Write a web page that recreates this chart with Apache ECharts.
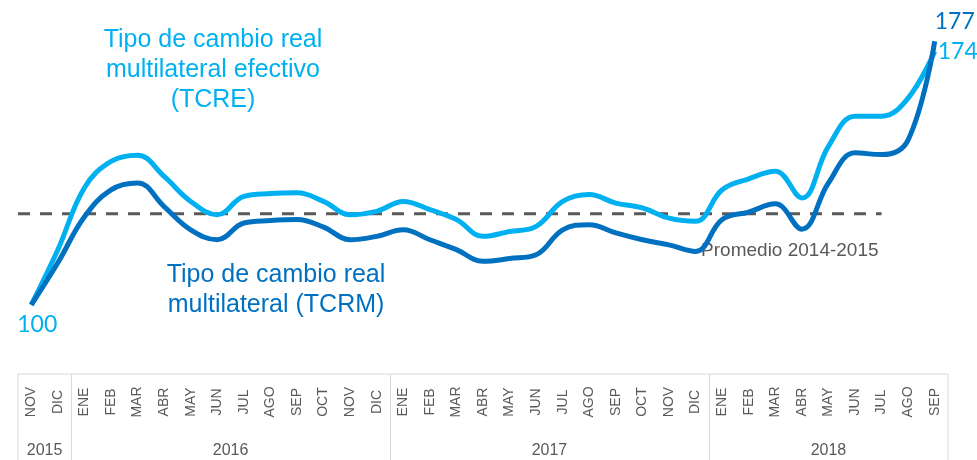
<!DOCTYPE html>
<html>
<head>
<meta charset="utf-8">
<script src="https://cdn.jsdelivr.net/npm/echarts@6/dist/echarts.min.js"></script>
<style>
  html, body { margin: 0; padding: 0; background: #fff; }
  #chart { width: 977px; height: 460px; }
</style>
</head>
<body>
<div id="chart"></div>
<script>
// meses nov-2015 .. sep-2018
const months = ['NOV', 'DIC',
  'ENE', 'FEB', 'MAR', 'ABR', 'MAY', 'JUN', 'JUL', 'AGO', 'SEP', 'OCT', 'NOV', 'DIC',
  'ENE', 'FEB', 'MAR', 'ABR', 'MAY', 'JUN', 'JUL', 'AGO', 'SEP', 'OCT', 'NOV', 'DIC',
  'ENE', 'FEB', 'MAR', 'ABR', 'MAY', 'JUN', 'JUL', 'AGO', 'SEP'];
const years = ['2015', '2016', '2017', '2018'];
const monthsPerYear = [2, 12, 12, 9];

// indices (nov-2015 = 100)
const tcre = [100, 116.1, 134.2, 141.9, 143.7, 137.5, 130.2, 126.3, 131.7, 132.5, 132.7, 130.2, 126.3, 127.3,
  130.2, 127.8, 124.9, 120.0, 121.4, 122.9, 130.2, 132.2, 129.7, 128.3, 125.3, 124.4,
  133.6, 136.8, 139.0, 131.2, 146.3, 155.1, 155.1, 160.4, 174];
const tcrm = [100, 112.3, 125.7, 133.6, 135.6, 128.7, 121.9, 119.0, 123.9, 124.6, 124.9, 122.7, 119.0, 120.0,
  121.9, 119.0, 116.1, 112.7, 113.5, 114.6, 121.9, 123.4, 121.0, 119.0, 117.5, 115.6,
  124.9, 127.1, 129.5, 122.1, 135.6, 144.4, 143.9, 148.2, 177];

// promedio 2014-2015, dibujado desde el borde izquierdo hasta jul-2018
const promedio = 126.6;
const promedioTramo = [-0.5, 32];

// separadores y centros de cada año en la tabla de meses
const yearBounds = [];
const yearCenters = [];
let start = 0;
monthsPerYear.forEach((n, i) => {
  yearCenters.push(start + (n - 1) / 2);
  if (i > 0) yearBounds.push(start - 0.5);
  start += n;
});

const FONT = '"Liberation Sans", Arial, sans-serif';
const NUMFONT = 'Lato, "Open Sans", sans-serif';
const LIGHT = '#00B0F0';
const DARK = '#0070C0';
const GRAY = '#595959';

const chart = echarts.init(document.getElementById('chart'));

const numLabel = (color, extra) => Object.assign({
  show: true, formatter: '{c}', fontFamily: NUMFONT, fontSize: 23, color: color
}, extra);

chart.setOption({
  animation: false,
  grid: [
    { left: 18, right: 29, top: 31, height: 308, outerBoundsMode: 'none' },
    { left: 18, right: 29, top: 374, height: 96, outerBoundsMode: 'none', show: true, borderColor: '#d9d9d9', borderWidth: 1 }
  ],
  xAxis: [
    { type: 'category', gridIndex: 0, data: months, show: false },
    {
      type: 'category', gridIndex: 1, data: months, position: 'top',
      axisLine: { show: false }, axisTick: { show: false },
      axisLabel: {
        inside: true, interval: 0, rotate: 90, margin: 28,
        align: 'center', verticalAlign: 'middle',
        fontFamily: FONT, fontSize: 14, color: GRAY
      }
    },
    {
      type: 'value', gridIndex: 1, min: -0.5, max: months.length - 0.5, position: 'bottom',
      axisLine: { show: false }, splitLine: { show: false },
      axisTick: { show: true, inside: true, length: 96, customValues: yearBounds, lineStyle: { color: '#d9d9d9', width: 1 } },
      axisLabel: {
        show: true, inside: true, margin: 19, customValues: yearCenters,
        formatter: v => years[yearCenters.indexOf(v)] || '',
        verticalAlign: 'middle', fontFamily: FONT, fontSize: 16, color: GRAY
      }
    },
    { type: 'value', gridIndex: 0, min: -0.5, max: months.length - 0.5, show: false }
  ],
  yAxis: [
    { type: 'value', gridIndex: 0, min: 90, max: 180, show: false },
    { type: 'value', gridIndex: 1, min: 0, max: 1, show: false }
  ],
  series: [
    {
      name: 'Promedio 2014-2015',
      type: 'line', xAxisIndex: 3, yAxisIndex: 0,
      data: [
        [promedioTramo[0], promedio],
        {
          value: [promedioTramo[1], promedio],
          label: {
            show: true, position: 'bottom', align: 'right', distance: 27, offset: [-3, 0],
            formatter: 'Promedio 2014-2015', fontFamily: FONT, fontSize: 19, color: GRAY
          }
        }
      ],
      symbol: 'circle', symbolSize: 0.1, showSymbol: true, silent: true,
      lineStyle: { color: GRAY, width: 3, type: [12, 10] },
      z: 1
    },
    {
      name: 'TCRE',
      type: 'line', xAxisIndex: 0, yAxisIndex: 0,
      data: tcre.map((v, i) => {
        if (i === 0) return { value: v, label: numLabel(LIGHT, { position: 'bottom', distance: 8, offset: [6, 0] }) };
        if (i === tcre.length - 1) return { value: v, label: numLabel(LIGHT, { position: 'right', distance: 3 }) };
        return v;
      }),
      smooth: 0.4, symbol: 'circle', symbolSize: 0.1, showSymbol: true, showAllSymbol: true,
      lineStyle: { color: LIGHT, width: 5 },
      z: 3
    },
    {
      name: 'TCRM',
      type: 'line', xAxisIndex: 0, yAxisIndex: 0,
      data: tcrm.map((v, i) => {
        if (i === tcrm.length - 1) return { value: v, label: numLabel(DARK, { position: 'top', align: 'left', distance: 8 }) };
        return v;
      }),
      smooth: 0.4, symbol: 'circle', symbolSize: 0.1, showSymbol: true, showAllSymbol: true,
      lineStyle: { color: DARK, width: 5 },
      z: 4
    }
  ],
  graphic: [
    {
      type: 'text', x: 213, y: 25,
      style: {
        text: 'Tipo de cambio real\nmultilateral efectivo\n(TCRE)',
        fill: LIGHT, font: '25px ' + FONT, lineHeight: 30,
        align: 'center', verticalAlign: 'top'
      }
    },
    {
      type: 'text', x: 276, y: 260,
      style: {
        text: 'Tipo de cambio real\nmultilateral (TCRM)',
        fill: DARK, font: '25px ' + FONT, lineHeight: 30,
        align: 'center', verticalAlign: 'top'
      }
    }
  ]
});
</script>
</body>
</html>
